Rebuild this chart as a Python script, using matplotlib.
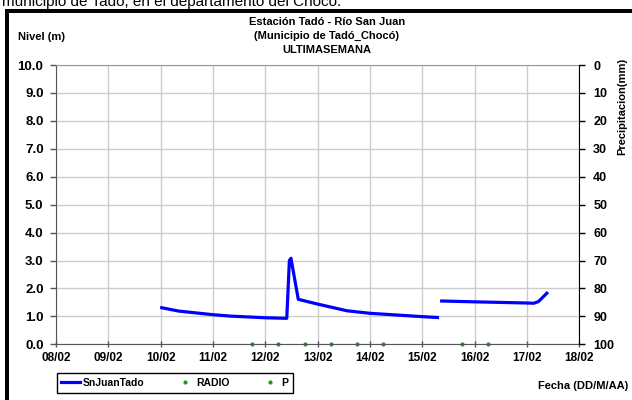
import numpy as np
import matplotlib
matplotlib.use('Agg')
import matplotlib.pyplot as plt
from matplotlib.patches import Rectangle
from matplotlib.lines import Line2D

# level series (day of February, metres); NaN marks the data gap
days = [10.02, 10.34, 11.0, 11.33, 12.0, 12.41, 12.46, 12.49, 12.63, 13.0, 13.56,
        14.0, 15.0, 15.29, np.nan, 15.37, 16.0, 16.49, 16.97, 17.13, 17.22, 17.38]
nivel = [1.31, 1.19, 1.06, 1.01, 0.95, 0.93, 3.0, 3.08, 1.61, 1.44, 1.2,
         1.11, 0.99, 0.96, np.nan, 1.55, 1.52, 1.5, 1.48, 1.47, 1.53, 1.83]

radio_days = [11.75, 12.25, 12.75, 13.25, 13.75, 14.25, 15.75, 16.25]
radio_vals = [0, 0, 0, 0, 0, 0, 0, 0]
p_days = []
p_vals = []

x_ticks = list(range(8, 19))
x_labels = [f"{d:02d}/02" for d in x_ticks]
y_ticks = np.arange(0, 10.5, 1.0)
precip_ticks = list(range(0, 101, 10))

plt.rcParams['font.family'] = ['Liberation Sans', 'DejaVu Sans']

W, H = 632, 400
fig = plt.figure(figsize=(W / 100, H / 100), dpi=100)

# clipped sentence at the very top of the screenshot
fig.text(2 / W, 1 - 6 / H, "municipio de Tadó, en el departamento del Chocó.",
         fontsize=11, ha='left', va='baseline')

# thick black frame (top and left)
fig.patches.append(Rectangle((5 / W, 0), 4 / W, 1 - 9 / H, transform=fig.transFigure,
                             facecolor='black', edgecolor='none'))
fig.patches.append(Rectangle((5 / W, 1 - 13 / H), 1, 4 / H, transform=fig.transFigure,
                             facecolor='black', edgecolor='none'))

ax = fig.add_axes([56 / W, 1 - 344.3 / H, (579.3 - 56) / W, (344.3 - 65) / H])
ax.plot(days, nivel, color='#0000FF', lw=2.3, solid_joinstyle='round')
ax.plot(radio_days, radio_vals, ls='none', marker='o', ms=2, color='#12a012', clip_on=False)
ax.plot(p_days, p_vals, ls='none', marker='o', ms=2, color='#12a012')

ax.set_xlim(8, 18)
ax.set_ylim(0, 10)
ax.set_xticks(x_ticks)
ax.set_xticklabels(x_labels, fontsize=8.5, fontweight='bold')
ax.set_yticks(y_ticks)
ax.set_yticklabels([f"{v:.1f}" for v in y_ticks], fontsize=9.5, fontweight='bold')
ax.grid(True, color='#cccccc', lw=1)
ax.set_axisbelow(True)
ax.tick_params(axis='y', length=4, width=1, color='#555555', pad=5)
ax.tick_params(axis='x', direction='inout', length=5, width=1, color='#555555', pad=3)
for s in ['left', 'bottom']:
    ax.spines[s].set_color('#555555')
ax.spines['top'].set_color('#999999')
ax.spines['right'].set_visible(False)

ax2 = ax.twinx()
ax2.set_ylim(100, 0)
ax2.set_yticks(precip_ticks)
ax2.set_yticklabels([str(t) for t in precip_ticks], fontsize=9, fontweight='bold')
ax2.tick_params(axis='y', length=4, width=1, color='black', pad=6)
ax2.spines['right'].set_color('black')
for s in ['left', 'top', 'bottom']:
    ax2.spines[s].set_visible(False)

# titles and axis names
fig.text(327 / W, 1 - 22 / H, "Estación Tadó - Río San Juan", fontsize=8, fontweight='bold',
         ha='center', va='center')
fig.text(327 / W, 1 - 36 / H, "(Municipio de Tadó_Chocó)", fontsize=8, fontweight='bold',
         ha='center', va='center')
fig.text(327 / W, 1 - 50 / H, "ULTIMASEMANA", fontsize=8, fontweight='bold',
         ha='center', va='center')
fig.text(18 / W, 1 - 37 / H, "Nivel (m)", fontsize=8, fontweight='bold', ha='left', va='center')
fig.text(622 / W, 1 - 106 / H, "Precipitacion(mm)", fontsize=8, fontweight='bold',
         rotation=90, ha='center', va='center')
fig.text(628 / W, 1 - 386 / H, "Fecha (DD/M/AA)", fontsize=8, fontweight='bold',
         ha='right', va='center')

handles = [Line2D([], [], color='#0000FF', lw=2.3),
           Line2D([], [], ls='none', marker='o', ms=2, color='#12a012'),
           Line2D([], [], ls='none', marker='o', ms=2, color='#12a012')]
leg = fig.legend(handles, ["SnJuanTado", "RADIO", "P"], loc='center',
                 bbox_to_anchor=(175 / W, 1 - 383 / H), ncol=3, frameon=True,
                 fancybox=False, edgecolor='black', framealpha=1,
                 prop={'size': 7.5, 'weight': 'bold'}, handlelength=1.8,
                 handletextpad=0.2, columnspacing=3.0, borderpad=0.45)
leg.get_frame().set_linewidth(1)

fig.savefig('out.png', dpi=100)
